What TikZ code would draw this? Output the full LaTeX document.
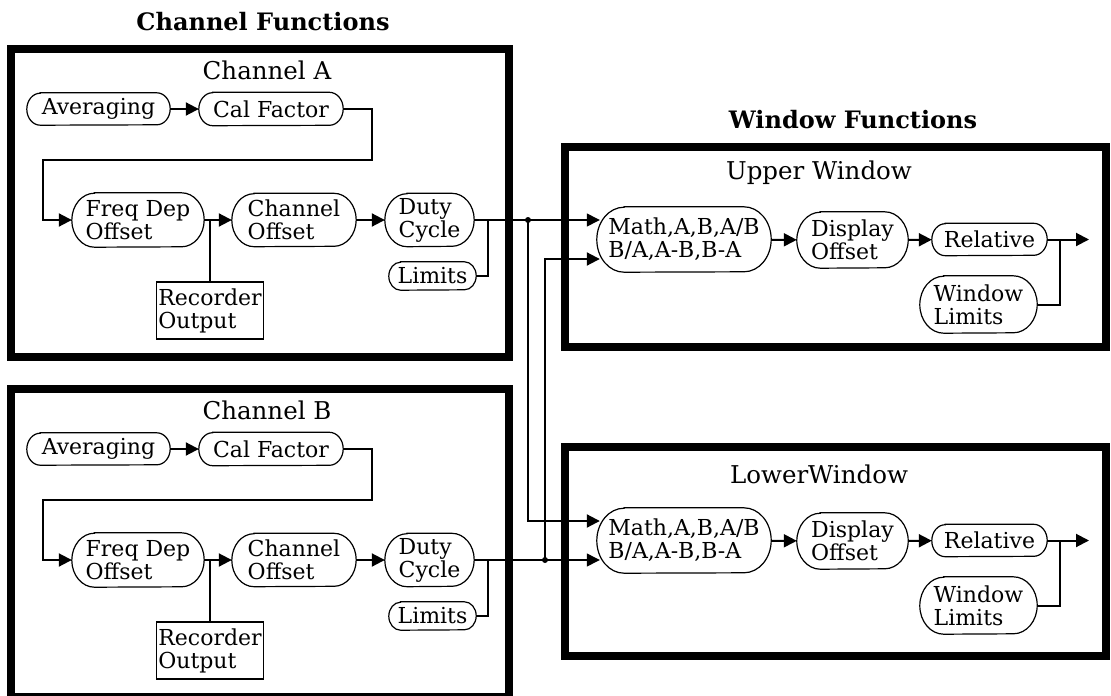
\documentclass[tikz,border=0pt]{standalone}
\usepackage{fontspec}
\setmainfont{DejaVu Serif}
\usetikzlibrary{arrows.meta,calc}
\tikzset{
  box/.style={draw, rectangle, line width=7.5pt, inner sep=0pt},
  titletext/.style={font=\fontsize{24}{26}\selectfont\bfseries, inner sep=0pt},
  lbl/.style={font=\fontsize{24.5}{26}\selectfont, inner sep=0pt},
  pilltext/.style={rectangle, font=\fontsize{22}{23}\selectfont, align=left, inner sep=0pt},
  pillline/.style={line width=1.2pt},
  recbox/.style={draw, rectangle, line width=1.5pt, font=\fontsize{22}{23}\selectfont, align=left, inner sep=2pt},
  conn/.style={line width=2pt},
  thinconn/.style={line width=1.3pt},
  tip/.style={-{Triangle[length=13pt,width=13pt]}},
  junction/.style={circle, fill, inner sep=0pt, minimum size=6pt}
}
% name, x, y, width, height, text
\newcommand\pill[6]{%
  \node[pilltext, minimum width=#4pt, minimum height=#5pt] (#1) at (#2,#3) {#6};
  \pgfmathsetmacro\pillrx{0.42*#5}%
  \pgfmathsetmacro\pillry{#5/2}%
  \draw[pillline] ($(#1.north west)+(\pillrx,0)$) -- ($(#1.north east)+(-\pillrx,0)$)
    arc[start angle=90, end angle=-90, x radius=\pillrx pt, y radius=\pillry pt]
    -- ($(#1.south west)+(\pillrx,0)$)
    arc[start angle=-90, end angle=-270, x radius=\pillrx pt, y radius=\pillry pt] -- cycle;
}
% prefix, dy, label
\newcommand\channelblock[3]{%
  \node[box, minimum width=498pt, minimum height=308pt] (#1box) at (260,-203-#2) {};
  \node[lbl] (#1lbl) at (267,-70-#2) {#3};
  \pill{#1avg}{98.5}{-109-#2}{143}{32}{Averaging}
  \pill{#1cal}{271}{-109-#2}{144}{33}{Cal Factor}
  \pill{#1freq}{138}{-220-#2}{132}{54}{Freq Dep\\Offset}
  \pill{#1chan}{294}{-220-#2}{124}{53}{Channel\\Offset}
  \pill{#1duty}{429.5}{-220-#2}{89}{53}{Duty\\Cycle}
  \pill{#1lim}{432.5}{-276-#2}{87}{28}{Limits}
  \node[recbox, minimum width=106pt, minimum height=57pt] (#1rec) at (210,-310.5-#2) {Recorder\\Output};
  \draw[conn,tip] (#1avg) -- (#1cal);
  \draw[conn,tip] (#1cal.east) -- ++(29,0) -- ++(0,-51) -| ([xshift=-29pt]#1freq.west) -- (#1freq.west);
  \draw[conn,tip] (#1freq) -- (#1chan);
  \draw[conn] (#1rec.north) -- (#1rec.north |- #1freq.east);
  \draw[conn,tip] (#1chan) -- (#1duty);
  \draw[conn] (#1lim.east) -| ([xshift=14pt]#1duty.east);
}
% prefix, dy, label, box height, box centre y
\newcommand\windowblock[5]{%
  \node[box, minimum width=541pt, minimum height=#4pt] (#1box) at (835.5,#5) {};
  \node[lbl] (#1lbl) at (819,-173-#2) {#3};
  \pill{#1math}{684}{-239.5-#2}{174}{65}{Math,A,B,A/B\\B/A,A-B,B-A}
  \pill{#1disp}{852.5}{-240-#2}{111}{56}{Display\\Offset}
  \pill{#1rel}{989.5}{-239.5-#2}{115}{32}{Relative}
  \pill{#1wl}{978.5}{-304.5-#2}{117}{57}{Window\\Limits}
  \coordinate (#1out) at (1089,-239.5-#2);
  \draw[conn,tip] (#1math) -- (#1disp);
  \draw[conn,tip] (#1disp) -- (#1rel);
  \draw[conn,tip] (#1rel) -- (#1out);
  \draw[conn] (#1wl.east) -| ([xshift=13pt]#1rel.east);
}
\begin{document}
\begin{tikzpicture}[x=1pt,y=1pt]
  \useasboundingbox (0,0) rectangle (1111,-696);
  \node[titletext] (tchan) at (263,-22) {Channel Functions};
  \node[titletext] (twin) at (853,-120) {Window Functions};
  \channelblock{a}{0}{Channel A}
  \channelblock{b}{340}{Channel B}
  \windowblock{u}{0}{Upper Window}{200}{-247}
  \windowblock{l}{301}{LowerWindow}{209}{-551.5}
  \node[junction] (dA) at (528,-220) {};
  \node[junction] (dB) at (545,-560) {};
  \draw[thinconn,tip] (aduty.east) -- ([shift={(3,19.5)}]umath.west);
  \draw[thinconn,tip] (bduty.east) -- ([shift={(3,-19.5)}]lmath.west);
  \draw[conn,tip] (dA.center) |- ([shift={(3,19.5)}]lmath.west);
  \draw[conn,tip] (dB.center) |- ([shift={(3,-19.5)}]umath.west);
\end{tikzpicture}
\end{document}
